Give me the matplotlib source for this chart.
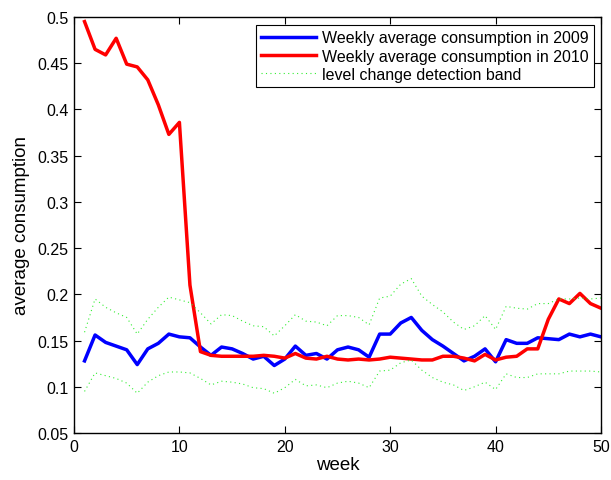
import numpy as np
import matplotlib
matplotlib.use("Agg")
import matplotlib.pyplot as plt

plt.rcParams["font.family"] = ["Liberation Sans", "DejaVu Sans"]

weeks = np.arange(1, 51)

# weekly average consumption, 2009
cons_2009 = [
    0.128, 0.156, 0.148, 0.144, 0.140, 0.124, 0.141, 0.147, 0.157, 0.154,
    0.153, 0.143, 0.134, 0.143, 0.141, 0.136, 0.130, 0.133, 0.123, 0.130,
    0.144, 0.134, 0.136, 0.130, 0.140, 0.143, 0.140, 0.132, 0.157, 0.157,
    0.169, 0.175, 0.161, 0.151, 0.144, 0.136, 0.128, 0.133, 0.141, 0.127,
    0.151, 0.147, 0.147, 0.153, 0.152, 0.151, 0.157, 0.154, 0.157, 0.154,
]

# weekly average consumption, 2010
cons_2010 = [
    0.495, 0.465, 0.459, 0.477, 0.449, 0.446, 0.432, 0.405, 0.373, 0.386,
    0.210, 0.138, 0.134, 0.133, 0.133, 0.133, 0.133, 0.134, 0.133, 0.131,
    0.136, 0.131, 0.130, 0.133, 0.130, 0.129, 0.130, 0.129, 0.130, 0.132,
    0.131, 0.130, 0.129, 0.129, 0.133, 0.133, 0.131, 0.128, 0.135, 0.129,
    0.132, 0.133, 0.141, 0.141, 0.173, 0.195, 0.190, 0.201, 0.190, 0.185,
]

# level change detection band
band_upper = [
    0.159, 0.195, 0.186, 0.180, 0.175, 0.157, 0.173, 0.186, 0.197, 0.194,
    0.191, 0.180, 0.168, 0.178, 0.177, 0.171, 0.166, 0.165, 0.155, 0.166,
    0.178, 0.171, 0.170, 0.166, 0.177, 0.177, 0.175, 0.167, 0.196, 0.198,
    0.211, 0.217, 0.198, 0.189, 0.181, 0.170, 0.162, 0.166, 0.177, 0.162,
    0.187, 0.185, 0.184, 0.190, 0.190, 0.195, 0.195, 0.196, 0.195, 0.196,
]
band_lower = [
    0.095, 0.115, 0.112, 0.109, 0.104, 0.093, 0.105, 0.112, 0.116, 0.116,
    0.115, 0.109, 0.102, 0.106, 0.105, 0.103, 0.099, 0.098, 0.093, 0.099,
    0.108, 0.101, 0.102, 0.099, 0.104, 0.106, 0.104, 0.099, 0.117, 0.118,
    0.126, 0.129, 0.118, 0.110, 0.105, 0.102, 0.096, 0.100, 0.105, 0.097,
    0.114, 0.110, 0.110, 0.114, 0.114, 0.114, 0.117, 0.117, 0.117, 0.116,
]

fig = plt.figure(figsize=(6.11, 4.81), dpi=100)
ax = fig.add_axes([74 / 611, 47 / 481, 527 / 611, 416 / 481])

band_style = dict(color="#33ee33", linewidth=0.8, linestyle=(0, (1, 3)))
ax.plot(weeks, cons_2009, color="#0000ff", linewidth=2.5,
        label="Weekly average consumption in 2009")
ax.plot(weeks, cons_2010, color="#ff0000", linewidth=2.5,
        label="Weekly average consumption in 2010")
ax.plot(weeks, band_upper, label="level change detection band", **band_style)
ax.plot(weeks, band_lower, **band_style)

ax.set_xlim(0, 50)
ax.set_ylim(0.05, 0.5)
ax.set_xticks([0, 10, 20, 30, 40, 50])
ax.set_yticks(np.arange(0.05, 0.501, 0.05))
ax.set_yticklabels(["0.05", "0.1", "0.15", "0.2", "0.25", "0.3", "0.35",
                    "0.4", "0.45", "0.5"])
ax.tick_params(direction="in", top=True, right=True, length=5, width=0.8,
               labelsize=11.5, pad=4)
for sp in ax.spines.values():
    sp.set_linewidth(1.0)

ax.set_xlabel("week", fontsize=13.5, labelpad=2)
ax.set_ylabel("average consumption", fontsize=13.5, labelpad=5)

leg = ax.legend(loc="upper right", bbox_to_anchor=(0.987, 0.981),
                borderaxespad=0, fontsize=11.5, handlelength=3.4,
                handletextpad=0.4, labelspacing=0.2, borderpad=0.35,
                fancybox=False, framealpha=1)
leg.get_frame().set_edgecolor("black")
leg.get_frame().set_linewidth(0.8)

fig.savefig("out.png", dpi=100)
